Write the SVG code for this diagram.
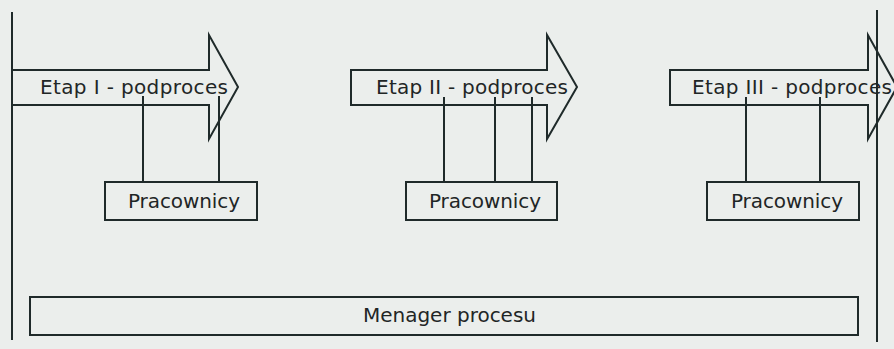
<svg xmlns="http://www.w3.org/2000/svg" width="894" height="349" viewBox="0 0 894 349">
<style>
.shape{fill:none;stroke:#1f2a2a;stroke-width:2;stroke-linejoin:miter}
.line{stroke:#1f2a2a;stroke-width:2;fill:none}
.lbl{font-family:"DejaVu Sans","Liberation Sans",sans-serif;font-size:20px;fill:#1f2626}
</style>
<rect x="0" y="0" width="894" height="349" fill="#ebeeec"/>
<g id="connectors">
<line class="line" x1="12" y1="12" x2="12" y2="340"/>
<line class="line" x1="877" y1="10" x2="877" y2="342"/>
<line class="line" x1="143" y1="96" x2="143" y2="182"/>
<line class="line" x1="219" y1="96" x2="219" y2="182"/>
<line class="line" x1="444" y1="97" x2="444" y2="182"/>
<line class="line" x1="495" y1="97" x2="495" y2="182"/>
<line class="line" x1="532" y1="97" x2="532" y2="182"/>
<line class="line" x1="746" y1="97" x2="746" y2="182"/>
<line class="line" x1="820" y1="97" x2="820" y2="182"/>
</g>
<g id="etap1">
<polygon class="shape" points="12,70 209,70 209,35 238,87 209,139 209,105 12,105"/>
<text class="lbl" x="40" y="94" textLength="188">Etap I - podproces</text>
</g>
<g id="etap2">
<polygon class="shape" points="351,70 547,70 547,35 577,87 547,139 547,105 351,105"/>
<text class="lbl" x="376" y="94" textLength="192">Etap II - podproces</text>
</g>
<g id="etap3">
<polygon class="shape" points="670,70 868,70 868,35 897,87 868,139 868,105 670,105"/>
<text class="lbl" x="692" y="94" textLength="200">Etap III - podproces</text>
</g>
<g id="pracownicy1">
<rect class="shape" x="105" y="182" width="152" height="38"/>
<text class="lbl" x="128" y="208" textLength="112">Pracownicy</text>
</g>
<g id="pracownicy2">
<rect class="shape" x="406" y="182" width="151" height="38"/>
<text class="lbl" x="429" y="208" textLength="112">Pracownicy</text>
</g>
<g id="pracownicy3">
<rect class="shape" x="707" y="182" width="152" height="38"/>
<text class="lbl" x="731" y="208" textLength="112">Pracownicy</text>
</g>
<g id="menager">
<rect class="shape" x="30" y="297" width="828" height="38"/>
<text class="lbl" x="363" y="322" textLength="173">Menager procesu</text>
</g>
</svg>
